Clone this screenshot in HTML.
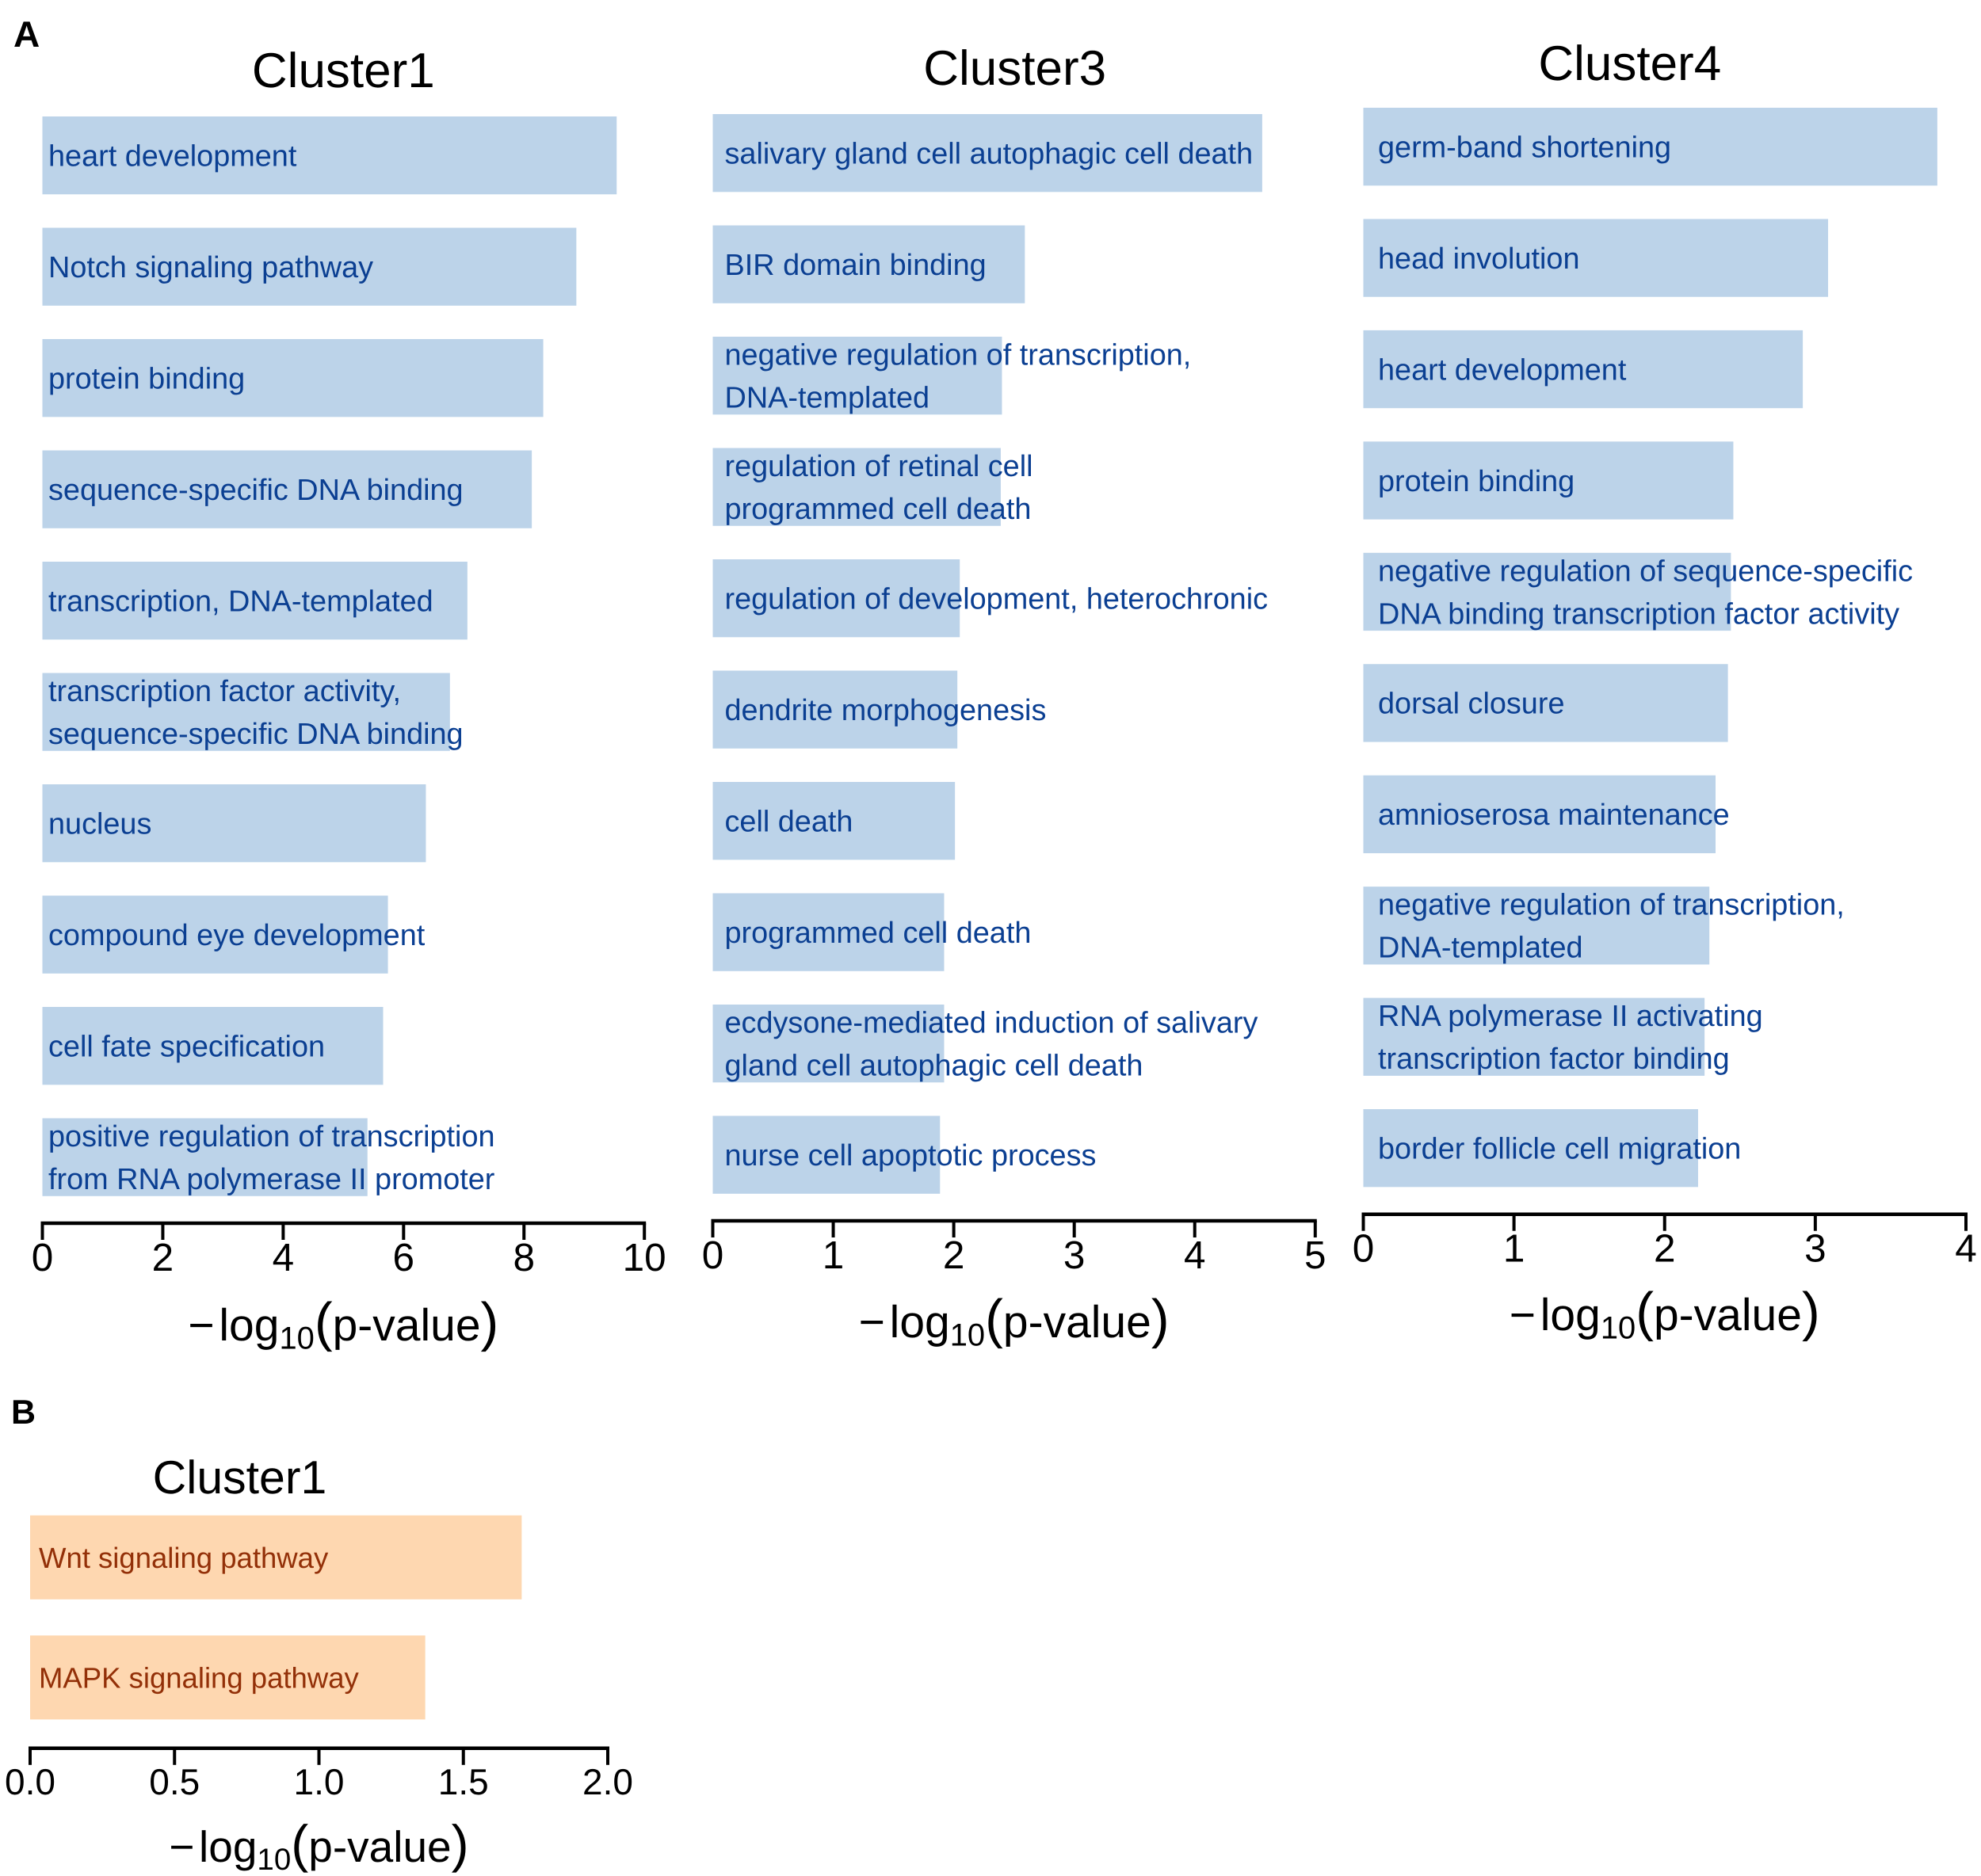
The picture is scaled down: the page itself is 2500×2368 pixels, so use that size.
<!DOCTYPE html>
<html lang="en">
<head>
<meta charset="utf-8">
<title>GO enrichment by cluster</title>
<style>
html,body{margin:0;padding:0;background:#fff;width:2500px;height:2368px;overflow:hidden}
svg{display:block}
text{font-family:"Liberation Sans",Arial,sans-serif;text-rendering:geometricPrecision}
</style>
</head>
<body>
<svg id="figure" xmlns="http://www.w3.org/2000/svg" width="2500" height="2368" viewBox="0 0 2500 2368">
  <rect x="0" y="0" width="2500" height="2368" fill="#ffffff"/>
  <text x="17" y="59" font-size="46" font-weight="bold" fill="#000">A</text>
  <text x="14" y="1797" font-size="43" font-weight="bold" fill="#000">B</text>
</svg>
<script>
const cluster1Categories = ["heart development","Notch signaling pathway","protein binding","sequence-specific DNA binding","transcription, DNA-templated","transcription factor activity,\nsequence-specific DNA binding","nucleus","compound eye development","cell fate specification","positive regulation of transcription\nfrom RNA polymerase II promoter"];
const cluster1Values = [9.54,8.87,8.32,8.13,7.06,6.77,6.37,5.74,5.66,5.40];
const cluster1Ticks = [0,2,4,6,8,10];
const cluster1TickLabels = ["0","2","4","6","8","10"];

const cluster3Categories = ["salivary gland cell autophagic cell death","BIR domain binding","negative regulation of transcription,\nDNA-templated","regulation of retinal cell\nprogrammed cell death","regulation of development, heterochronic","dendrite morphogenesis","cell death","programmed cell death","ecdysone-mediated induction of salivary\ngland cell autophagic cell death","nurse cell apoptotic process"];
const cluster3Values = [4.56,2.59,2.40,2.39,2.05,2.03,2.01,1.92,1.92,1.886];
const cluster3Ticks = [0,1,2,3,4,5];
const cluster3TickLabels = ["0","1","2","3","4","5"];

const cluster4Categories = ["germ-band shortening","head involution","heart development","protein binding","negative regulation of sequence-specific\nDNA binding transcription factor activity","dorsal closure","amnioserosa maintenance","negative regulation of transcription,\nDNA-templated","RNA polymerase II activating\ntranscription factor binding","border follicle cell migration"];
const cluster4Values = [3.81,3.085,2.917,2.456,2.44,2.42,2.338,2.297,2.265,2.222];
const cluster4Ticks = [0,1,2,3,4];
const cluster4TickLabels = ["0","1","2","3","4"];

const pathwayCategories = ["Wnt signaling pathway","MAPK signaling pathway"];
const pathwayValues = [1.702,1.368];
const pathwayTicks = [0,0.5,1,1.5,2];
const pathwayTickLabels = ["0.0","0.5","1.0","1.5","2.0"];

const svgNS = "http://www.w3.org/2000/svg";
const figure = document.getElementById("figure");

function mk(parent, tag, attrs, content) {
  const el = document.createElementNS(svgNS, tag);
  for (const k in attrs) el.setAttribute(k, attrs[k]);
  if (content !== undefined) el.textContent = content;
  parent.appendChild(el);
  return el;
}

function slug(s) {
  return s.toLowerCase().replace(/[^a-z0-9]+/g, "-").replace(/^-|-$/g, "");
}

function drawPanel(cfg, categories, values, ticks, tickLabels) {
  const g = mk(figure, "g", {});
  
  

  const xScale = v => cfg.x0 + (v - ticks[0]) / (ticks[ticks.length - 1] - ticks[0]) * (cfg.x1 - cfg.x0);
  const yScale = i => cfg.barTop + i * cfg.barStep;
  const mid = (cfg.x0 + cfg.x1) / 2;

  const title = mk(g, "text", {x: mid + cfg.titleDx, y: cfg.titleY, "font-size": cfg.titleSize, "text-anchor": "middle", fill: "#000"}, cfg.title);
  
  

  categories.forEach((cat, i) => {
    const bar = mk(g, "rect", {x: xScale(0), y: yScale(i), width: xScale(values[i]) - xScale(0), height: cfg.barH, fill: cfg.barFill});
    
    
  });

  categories.forEach((cat, i) => {
    const lines = cat.split("\n");
    const center = yScale(i) + cfg.barH / 2 + 13.3;
    lines.forEach((line, j) => {
      const yPos = center + (j - (lines.length - 1) / 2) * 54;
      const label = mk(g, "text", {x: cfg.labelX, y: yPos, "font-size": cfg.labelSize, fill: cfg.labelFill}, line);
      
      
    });
  });

  const axis = mk(g, "line", {x1: cfg.x0 - 2, x2: cfg.x1 + 2, y1: cfg.axisY, y2: cfg.axisY, stroke: "#000", "stroke-width": 4.5});
  
  

  ticks.forEach((t, i) => {
    const tx = xScale(t);
    const tick = mk(g, "line", {x1: tx, x2: tx, y1: cfg.axisY, y2: cfg.axisY + 21, stroke: "#000", "stroke-width": 4});
    
    
    const tl = mk(g, "text", {x: tx, y: cfg.axisY + cfg.tickDy, "font-size": cfg.tickSize, "text-anchor": "middle", fill: "#000"}, tickLabels[i]);
    
    
  });

  const xt = mk(g, "text", {x: mid, y: cfg.xTitleY, "font-size": cfg.xTitleSize, "text-anchor": "middle", fill: "#000"});
  
  
  const s = cfg.xTitleSize;
  mk(xt, "tspan", {}, "\u2212");
  mk(xt, "tspan", {dx: s * 0.1}, "log");
  mk(xt, "tspan", {dy: s * 0.18, "font-size": s * 0.7}, "10");
  mk(xt, "tspan", {dy: -s * 0.18, "font-size": s * 1.2}, "(");
  mk(xt, "tspan", {}, "p-value");
  mk(xt, "tspan", {"font-size": s * 1.2}, ")");
}

const blue = {barFill: "#bcd3e9", labelFill: "#0b3f92", barH: 98.3, labelSize: 37.85, titleSize: 62, tickSize: 49.5, xTitleSize: 57, barStep: 140.5, tickDy: 60};

drawPanel(Object.assign({}, blue, {name: "cluster1-panel", title: "Cluster1", x0: 53.5, x1: 813.2, barTop: 147, axisY: 1544, titleY: 110, titleDx: 0, labelX: 61, xTitleY: 1692}),
  cluster1Categories, cluster1Values, cluster1Ticks, cluster1TickLabels);

drawPanel(Object.assign({}, blue, {name: "cluster3-panel", title: "Cluster3", x0: 899.5, x1: 1659.8, barTop: 144, axisY: 1541, titleY: 107, titleDx: 1, labelX: 914.5, xTitleY: 1688}),
  cluster3Categories, cluster3Values, cluster3Ticks, cluster3TickLabels);

drawPanel(Object.assign({}, blue, {name: "cluster4-panel", title: "Cluster4", x0: 1720.5, x1: 2481, barTop: 136, barStep: 140.45, axisY: 1532.7, titleY: 101, titleDx: -44, labelX: 1739, xTitleY: 1679}),
  cluster4Categories, cluster4Values, cluster4Ticks, cluster4TickLabels);

drawPanel({name: "pathway-panel", title: "Cluster1", barFill: "#fed7b0", labelFill: "#933008", barH: 106, barStep: 151.6, labelSize: 36.5, titleSize: 59, tickSize: 46, xTitleSize: 55, tickDy: 58, x0: 38, x1: 767, barTop: 1912.8, axisY: 2206.8, titleY: 1885, titleDx: -100, labelX: 49, xTitleY: 2350},
  pathwayCategories, pathwayValues, pathwayTicks, pathwayTickLabels);
</script>
</body>
</html>
